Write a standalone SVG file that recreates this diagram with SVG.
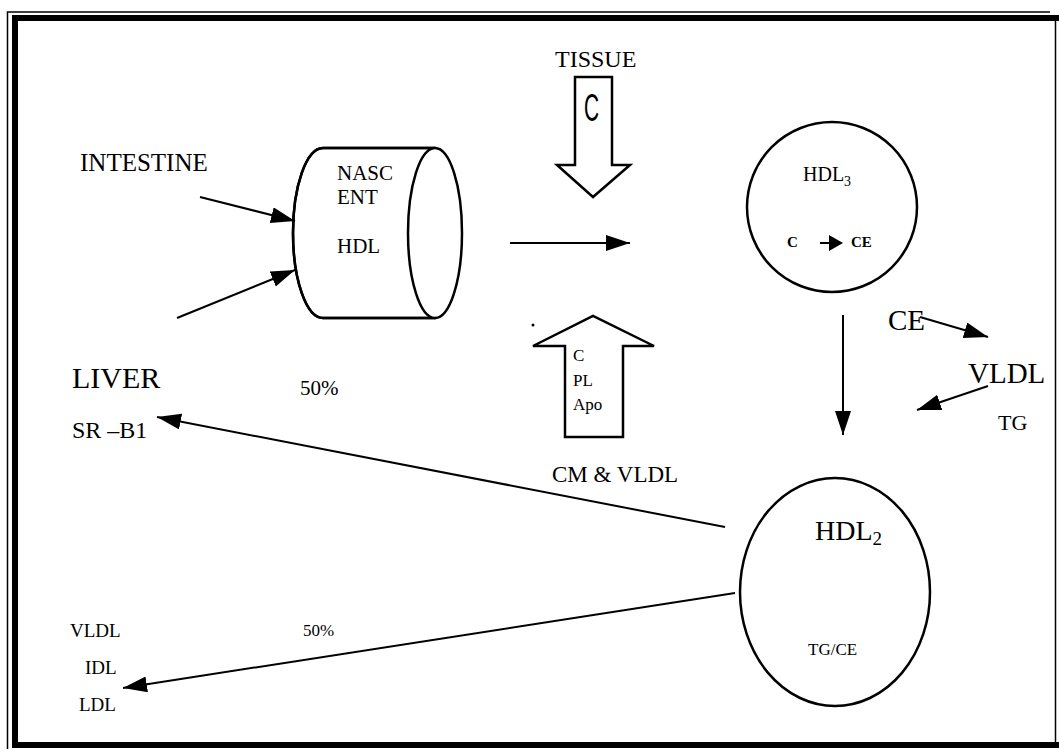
<svg xmlns="http://www.w3.org/2000/svg" width="1059" height="749" viewBox="0 0 1059 749">
<defs>
<marker id="ah" markerUnits="userSpaceOnUse" markerWidth="26" markerHeight="18" refX="24" refY="8" orient="auto">
<path d="M0,0 L24,8 L0,16 z" fill="#000"/>
</marker>
<style>
.t{font-family:"Liberation Serif","Times New Roman",serif;fill:#000}
.cn{stroke:#000;stroke-width:2;fill:none;marker-end:url(#ah)}
.sh{stroke:#000;stroke-width:2.5;fill:#fff}
</style>
</defs>
<rect width="1059" height="749" fill="#fff"/>
<g id="frame" fill="none" stroke="#000">
<path d="M1050,12 H7.5 V749" stroke-width="1.5"/>
<path d="M1059,18 H15 V745 H1059" stroke-width="6"/>
<path d="M1055.5,18 V745" stroke-width="1.5"/>
</g>
<g id="intestine"><text class="t" x="80" y="171" font-size="25">INTESTINE</text></g>
<g id="tissue"><text class="t" x="555" y="67" font-size="24">TISSUE</text></g>
<g id="nascent-hdl">
<path class="sh" d="M323,148 H435 V318 H323 A30,85 0 0 1 323,148 Z"/>
<path d="M435,148 H323 A30,85 0 0 0 323,318 H435" fill="none" stroke="#000" stroke-width="2.5"/>
<ellipse cx="435" cy="233" rx="27" ry="85" fill="#fff" stroke="#000" stroke-width="2.5"/>
<text class="t" x="337" y="180" font-size="21">NASC</text>
<text class="t" x="337" y="204" font-size="21">ENT</text>
<text class="t" x="337" y="253" font-size="21">HDL</text>
</g>
<g id="tissue-arrow">
<path class="sh" d="M575,77 H612 V165 H630 L593,197 L557,165 H575 Z"/>
<text x="0" y="0" font-family="Liberation Sans,Arial,sans-serif" font-size="38" transform="translate(584,121) scale(0.55,1)">C</text>
</g>
<g id="cm-vldl-arrow">
<path class="sh" d="M565,437 V346 H533 L593,316 L654,346 H623 V437 Z"/>
<text class="t" x="573" y="361" font-size="17">C</text>
<text class="t" x="573" y="386" font-size="17">PL</text>
<text class="t" x="573" y="410" font-size="17">Apo</text>
<circle cx="533" cy="325" r="1.5" fill="#000"/>
<text class="t" x="552" y="482" font-size="23">CM &amp; VLDL</text>
</g>
<g id="hdl3">
<ellipse class="sh" cx="832" cy="207" rx="85" ry="85"/>
<text class="t" x="803" y="181" font-size="20">HDL<tspan font-size="14" dy="5">3</tspan></text>
<text class="t" x="787" y="247" font-size="15" font-weight="bold">C</text>
<path d="M820,243 H830" stroke="#000" stroke-width="2"/>
<path d="M829,235 L843,243 L829,251 Z" fill="#000"/>
<text class="t" x="851" y="247" font-size="15" font-weight="bold">CE</text>
</g>
<g id="vldl-right">
<text class="t" x="888" y="330" font-size="29">CE</text>
<text class="t" x="968" y="383" font-size="29">VLDL</text>
<text class="t" x="998" y="430" font-size="22">TG</text>
</g>
<g id="liver">
<text class="t" x="72" y="388" font-size="30">LIVER</text>
<text class="t" x="72" y="438" font-size="24">SR –B1</text>
</g>
<g id="hdl2">
<ellipse class="sh" cx="835" cy="592" rx="95" ry="114"/>
<text class="t" x="815" y="540" font-size="28">HDL<tspan font-size="19" dy="5">2</tspan></text>
<text class="t" x="808" y="655" font-size="17">TG/CE</text>
</g>
<g id="lipoproteins">
<text class="t" x="70" y="637" font-size="19">VLDL</text>
<text class="t" x="85" y="674" font-size="19">IDL</text>
<text class="t" x="79" y="711" font-size="19">LDL</text>
</g>
<g id="labels">
<text class="t" x="300" y="395" font-size="21">50%</text>
<text class="t" x="303" y="636" font-size="17">50%</text>
</g>
<g id="connectors">
<line class="cn" x1="200" y1="197" x2="295" y2="221"/>
<line class="cn" x1="177" y1="318" x2="295" y2="270"/>
<line class="cn" x1="510" y1="243" x2="630" y2="243"/>
<line class="cn" x1="843" y1="315" x2="843" y2="435"/>
<line class="cn" x1="920" y1="317" x2="988" y2="337"/>
<line class="cn" x1="988" y1="386" x2="917" y2="410"/>
<line class="cn" x1="725" y1="527" x2="157" y2="417"/>
<line class="cn" x1="735" y1="593" x2="123" y2="688"/>
</g>
</svg>
